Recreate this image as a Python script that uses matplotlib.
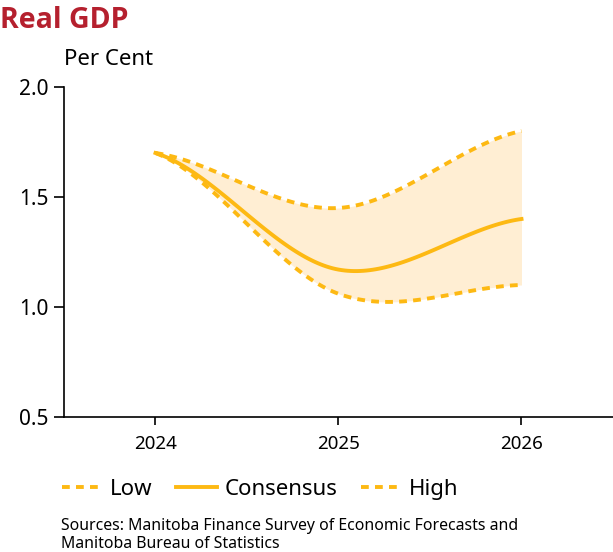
import numpy as np
import matplotlib.pyplot as plt

years = [2024, 2025, 2026]
low = [1.7, 1.06, 1.10]
consensus = [1.7, 1.17, 1.40]
high = [1.7, 1.45, 1.80]

gold = "#FDB913"
fill_col = "#FFEED3"

plt.rcParams['font.family'] = ['Noto Sans', 'DejaVu Sans']


def smooth(x, y, n=60):
    # catmull-rom through the points, end points duplicated (spreadsheet style smoothing)
    x = np.asarray(x, float)
    y = np.asarray(y, float)
    m = np.zeros_like(y)
    m[0] = 0.5 * (y[1] - y[0]) / (x[1] - x[0])
    m[-1] = 0.5 * (y[-1] - y[-2]) / (x[-1] - x[-2])
    for i in range(1, len(x) - 1):
        m[i] = (y[i + 1] - y[i - 1]) / (x[i + 1] - x[i - 1])
    xs, ys = [], []
    for i in range(len(x) - 1):
        h = x[i + 1] - x[i]
        t = np.linspace(0, 1, n, endpoint=(i == len(x) - 2))
        h00 = 2 * t**3 - 3 * t**2 + 1
        h10 = t**3 - 2 * t**2 + t
        h01 = -2 * t**3 + 3 * t**2
        h11 = t**3 - t**2
        xs.append(x[i] + t * h)
        ys.append(h00 * y[i] + h10 * h * m[i] + h01 * y[i + 1] + h11 * h * m[i + 1])
    return np.concatenate(xs), np.concatenate(ys)


fig = plt.figure(figsize=(6.13, 5.52), dpi=100)
ax = fig.add_axes([0.1044, 0.2446, 0.8956, 0.5978])

xl, yl = smooth(years, low)
xc, yc = smooth(years, consensus)
xh, yh = smooth(years, high)

ax.fill_between(xl, yl, yh, color=fill_col, lw=0, zorder=1)
dash = (2.0, 1.6)
ax.plot(xl, yl, color=gold, lw=2.8, dashes=dash, label="Low", zorder=3)
ax.plot(xc, yc, color=gold, lw=2.8, label="Consensus", zorder=3)
ax.plot(xh, yh, color=gold, lw=2.8, dashes=dash, label="High", zorder=3)

ax.set_xlim(2023.5, 2026.5)
ax.set_ylim(0.5, 2.0)
ax.set_xticks(years)
ax.set_xticklabels([str(y) for y in years])
ax.set_yticks([0.5, 1.0, 1.5, 2.0])
ax.set_yticklabels(["0.5", "1.0", "1.5", "2.0"])
for s in ["top", "right"]:
    ax.spines[s].set_visible(False)
for s in ["left", "bottom"]:
    ax.spines[s].set_linewidth(1.2)
ax.tick_params(axis='y', length=7, width=1.2, labelsize=15, pad=4)
ax.tick_params(axis='x', length=6, width=1.2, labelsize=13.5, pad=7)

fig.text(0.0, 0.99, "Real GDP", color="#B5202E", fontsize=20.5, fontweight="bold",
         family=["Open Sans", "DejaVu Sans"], va="top", ha="left")
fig.text(0.104, 0.893, "Per Cent", fontsize=16, va="center", ha="left")

fig.legend(loc="center left", bbox_to_anchor=(0.101, 0.113), ncol=3, frameon=False,
           fontsize=16, handlelength=1.85, columnspacing=1.05, handletextpad=0.32,
           borderpad=0, borderaxespad=0)

fig.text(0.1, 0.031, "Sources: Manitoba Finance Survey of Economic Forecasts and\nManitoba Bureau of Statistics",
         fontsize=11.4, va="center", ha="left", linespacing=1.2)

fig.savefig("out.png", dpi=100)
